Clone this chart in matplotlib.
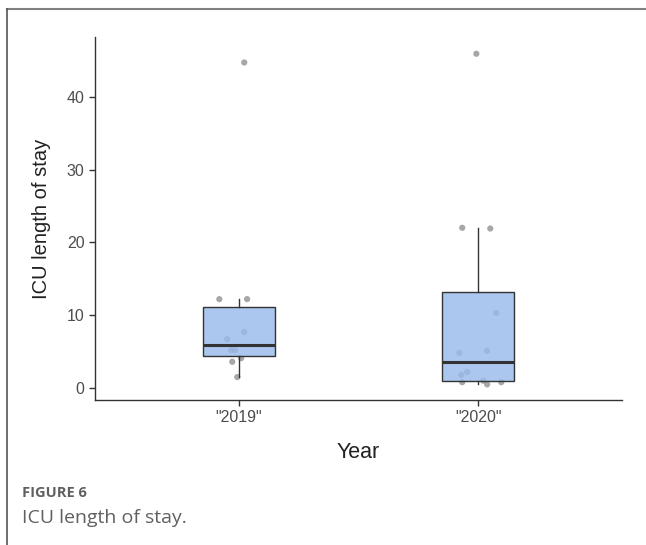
import matplotlib
matplotlib.use("Agg")
import matplotlib.pyplot as plt
from matplotlib.lines import Line2D
import numpy as np

categories = ['"2019"', '"2020"']
stay_2019 = [44.7, 12.2, 12.2, 7.7, 6.7, 5.2, 5.2, 4.1, 3.6, 1.5]
jitter_2019 = [0.023, -0.081, 0.035, 0.023, -0.048, -0.031, -0.015, 0.010, -0.027, -0.006]
stay_2020 = [45.9, 22.0, 21.9, 10.3, 5.1, 4.8, 2.2, 1.8, 1.0, 0.8, 0.8, 0.5]
jitter_2020 = [-0.008, -0.067, 0.050, 0.075, 0.037, -0.079, -0.046, -0.071, 0.021, -0.067, 0.096, 0.037]
y_ticks = [0, 10, 20, 30, 40]

fig = plt.figure(figsize=(6.46, 5.45), dpi=100)
ax = fig.add_axes([95/646, 1 - 400/545, (622-95)/646, (400-37)/545])

data = [stay_2019, stay_2020]
jit = [jitter_2019, jitter_2020]
pos = [1, 2]
for p, d, j in zip(pos, data, jit):
    ax.scatter(np.array(j) + p, d, s=20, color="#8a8a8a", alpha=0.75, edgecolors="none", zorder=1)
bp = ax.boxplot(data, positions=pos, widths=0.3, patch_artist=True, showfliers=False,
                whis=1.5,
                boxprops=dict(facecolor=(0.60, 0.73, 0.925, 0.82), edgecolor="#333333", linewidth=1.0),
                medianprops=dict(color="#333333", linewidth=2.2),
                whiskerprops=dict(color="#333333", linewidth=1.0),
                capprops=dict(linewidth=0),
                zorder=2)

ax.set_xlim(0.4, 2.6)
ax.set_ylim(-1.65, 48.2)
ax.set_xticks(pos)
ax.set_xticklabels(categories)
ax.set_yticks(y_ticks)
for s in ["top", "right"]:
    ax.spines[s].set_visible(False)
for s in ["left", "bottom"]:
    ax.spines[s].set_color("#333333")
    ax.spines[s].set_linewidth(1.0)
ax.tick_params(axis="both", colors="#333333", labelcolor="#4d4d4d", labelsize=11.5,
               length=4, width=1.0, labelfontfamily="Liberation Sans")
ax.set_xlabel("Year", fontsize=15.5, family="Liberation Sans", color="#222222", labelpad=12)
ax.set_ylabel("ICU length of stay", fontsize=14.5, family="Liberation Sans", color="#222222", labelpad=11)

# page frame lines
fig.add_artist(Line2D([7/646, 1], [1 - 8.5/545, 1 - 8.5/545], transform=fig.transFigure,
                      color="#808080", linewidth=1.5))
fig.add_artist(Line2D([7/646, 7/646], [1 - 8.5/545, 0], transform=fig.transFigure,
                      color="#555555", linewidth=1.2))

fig.text(22/646, 1 - 493/545, "FIGURE 6", fontsize=10.5, fontweight="bold",
         family="Open Sans", color="#606060", va="center")
fig.text(22/646, 1 - 518/545, "ICU length of stay.", fontsize=14,
         family="Open Sans", color="#606060", va="center")

fig.savefig("out.png", dpi=100)
